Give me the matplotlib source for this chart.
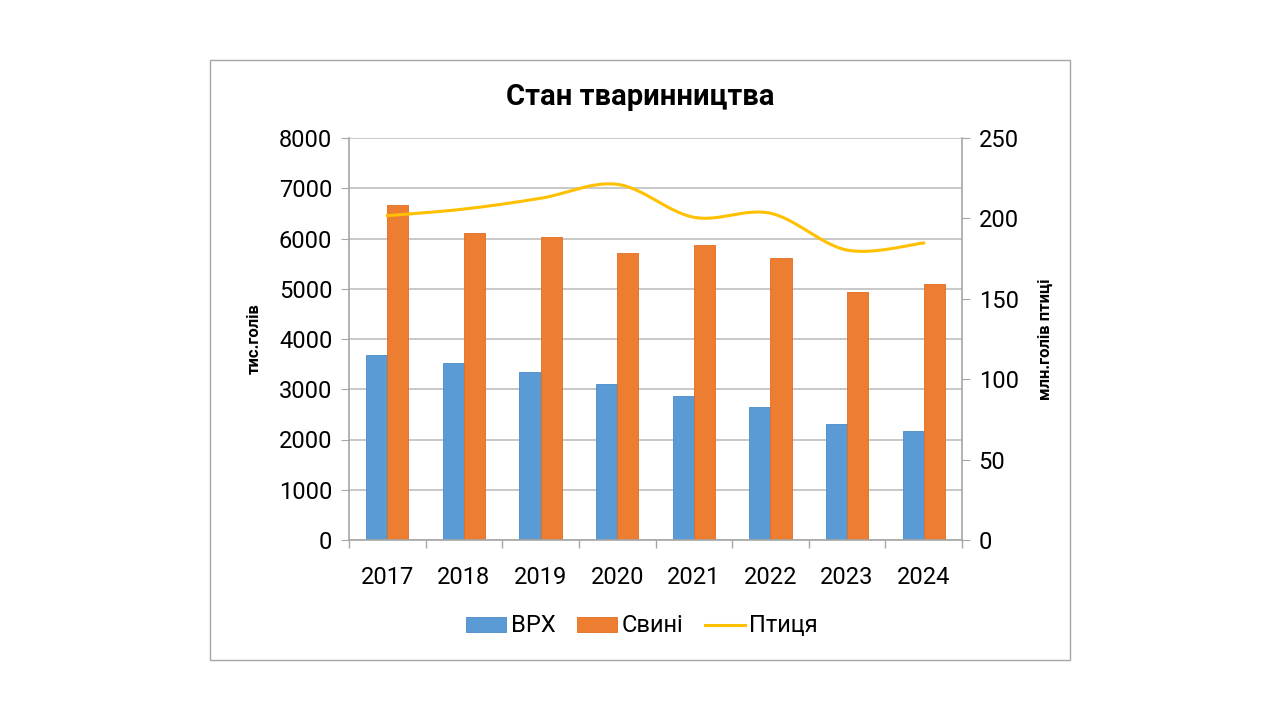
import numpy as np
import matplotlib.pyplot as plt
from matplotlib.patches import Rectangle
from matplotlib import font_manager

# data
years = ['2017', '2018', '2019', '2020', '2021', '2022', '2023', '2024']
vrh = [3690, 3520, 3340, 3110, 2870, 2650, 2310, 2160]
svyni = [6670, 6110, 6020, 5720, 5870, 5610, 4935, 5090]
ptytsia = [201.7, 205.8, 212.5, 221.2, 200.7, 203.2, 180.3, 184.7]

names = [f.name for f in font_manager.fontManager.ttflist]
font = 'Liberation Sans Narrow' if 'Liberation Sans Narrow' in names else 'Roboto'
plt.rcParams['font.family'] = [font, 'DejaVu Sans']

blue = '#5b9bd5'
orange = '#ed7d31'
yellow = '#ffc000'
grid = '#bfbfbf'
spine = '#a6a6a6'


def smooth(x, y, n=30):
    # Excel-style smoothed line: Bezier segments with Catmull-Rom control points
    x = np.asarray(x, float)
    y = np.asarray(y, float)
    px = np.concatenate([[x[0]], x, [x[-1]]])
    py = np.concatenate([[y[0]], y, [y[-1]]])
    xs, ys = [], []
    t = np.linspace(0, 1, n)
    for i in range(1, len(px) - 2):
        p0 = np.array([px[i], py[i]])
        p3 = np.array([px[i + 1], py[i + 1]])
        p1 = p0 + (np.array([px[i + 1], py[i + 1]]) - np.array([px[i - 1], py[i - 1]])) / 6
        p2 = p3 - (np.array([px[i + 2], py[i + 2]]) - np.array([px[i], py[i]])) / 6
        b = ((1 - t) ** 3)[:, None] * p0 + (3 * (1 - t) ** 2 * t)[:, None] * p1 \
            + (3 * (1 - t) * t ** 2)[:, None] * p2 + (t ** 3)[:, None] * p3
        xs.extend(b[:, 0])
        ys.extend(b[:, 1])
    return np.array(xs), np.array(ys)


fig = plt.figure(figsize=(12.8, 7.2), dpi=100)
fig.patches.append(Rectangle((210 / 1280, 60 / 720), 860 / 1280, 600 / 720,
                             transform=fig.transFigure, fill=False,
                             edgecolor='#a6a6a6', linewidth=1))

ax = fig.add_axes([349 / 1280, 180 / 720, 613 / 1280, 402 / 720])
x = np.arange(len(years))
w = 0.275
b1 = ax.bar(x - w / 2, vrh, w, color=blue, edgecolor='#4a8ac8', linewidth=0.6, label='ВРХ', zorder=2)
b2 = ax.bar(x + w / 2, svyni, w, color=orange, edgecolor='#e06c1f', linewidth=0.6, label='Свині', zorder=2)

ax.set_xlim(-0.5, len(years) - 0.5)
ax.set_ylim(0, 8000)
ax.set_yticks(range(0, 8001, 1000))
ax.yaxis.grid(True, color=grid, linewidth=1.2, zorder=0)
ax.set_axisbelow(True)
ax.set_xticks(np.arange(-0.5, len(years), 1.0))
ax.set_xticklabels([])
ax.set_xticks(x, minor=True)
ax.set_xticklabels(years, minor=True, fontsize=17)
ax.tick_params(axis='x', which='minor', length=0, pad=19)
ax.tick_params(axis='x', which='major', length=6, color=spine, width=1)
ax.tick_params(axis='y', labelsize=17, length=6, color=spine, pad=6)
for s in ['top', 'right']:
    ax.spines[s].set_visible(False)
for s in ['left', 'bottom']:
    ax.spines[s].set_color(spine)
    ax.spines[s].set_linewidth(1.2)
ax.set_ylabel('тис.голів', fontsize=12, fontweight='bold', labelpad=12)

ax2 = ax.twinx()
ax2.set_ylim(0, 250)
ax2.set_yticks(range(0, 251, 50))
sx, sy = smooth(x, ptytsia)
ln, = ax2.plot(sx, sy, color=yellow, linewidth=2.2, label='Птиця', zorder=3)
ax2.tick_params(axis='y', labelsize=17, length=6, color=spine, pad=6)
for s in ['top', 'left', 'bottom']:
    ax2.spines[s].set_visible(False)
ax2.spines['right'].set_color(spine)
ax2.spines['right'].set_linewidth(1.2)
ax2.set_ylabel('млн.голів птиці', fontsize=12, fontweight='bold', labelpad=14)

fig.text(640 / 1280, 1 - 97 / 720, 'Стан тваринництва', ha='center', va='center',
         fontsize=21, fontweight='bold')

fig.legend([b1, b2, ln], ['ВРХ', 'Свині', 'Птиця'], loc='center',
           bbox_to_anchor=(642 / 1280, 1 - 626 / 720), ncol=3, frameon=False,
           fontsize=17, handlelength=1.7, handleheight=0.6, columnspacing=0.9,
           handletextpad=0.2)

fig.savefig('out.png', dpi=100)
